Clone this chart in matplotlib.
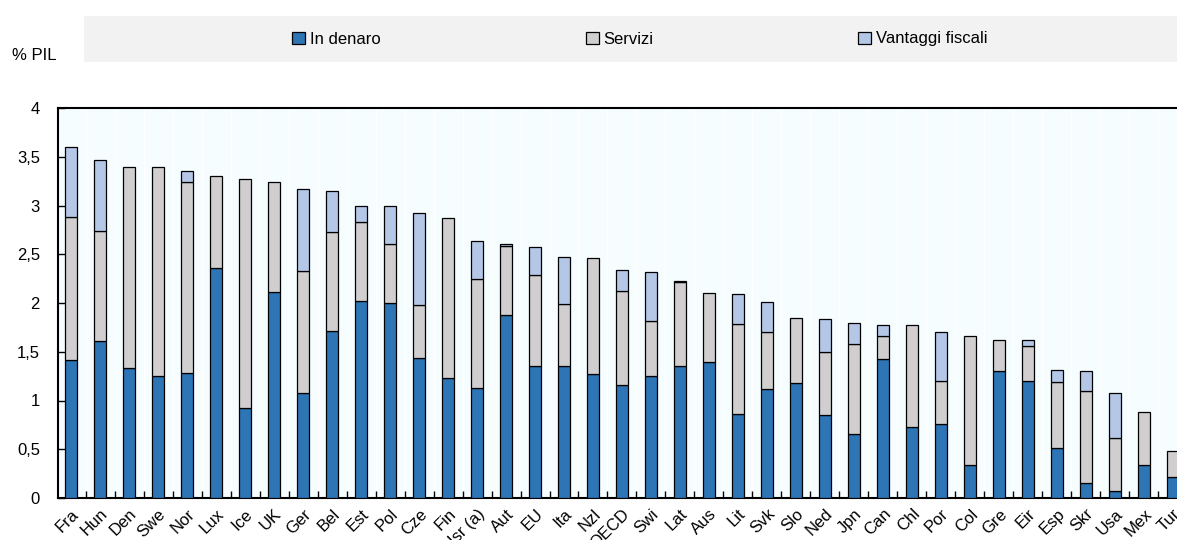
import matplotlib
matplotlib.use("Agg")
import numpy as np
import matplotlib.pyplot as plt
from matplotlib.patches import Rectangle
from matplotlib.ticker import FuncFormatter, FixedLocator

plt.rcParams['font.family'] = ['Liberation Sans', 'DejaVu Sans']
fs = 12

countries = ["Fra", "Hun", "Den", "Swe", "Nor", "Lux", "Ice", "UK", "Ger", "Bel",
             "Est", "Pol", "Cze", "Fin", "Isr (a)", "Aut", "EU", "Ita", "Nzl", "OECD",
             "Swi", "Lat", "Aus", "Lit", "Svk", "Slo", "Ned", "Jpn", "Can", "Chl",
             "Por", "Col", "Gre", "Eir", "Esp", "Skr", "Usa", "Mex", "Tur"]
in_denaro = [1.42, 1.61, 1.33, 1.25, 1.28, 2.36, 0.92, 2.11, 1.08, 1.71,
             2.02, 2.00, 1.44, 1.23, 1.13, 1.88, 1.35, 1.35, 1.27, 1.16,
             1.25, 1.35, 1.40, 0.86, 1.12, 1.18, 0.85, 0.66, 1.43, 0.73,
             0.76, 0.34, 1.30, 1.20, 0.51, 0.15, 0.07, 0.34, 0.22]
servizi = [1.46, 1.13, 2.07, 2.14, 1.96, 0.94, 2.35, 1.13, 1.25, 1.02,
           0.81, 0.61, 0.54, 1.64, 1.12, 0.70, 0.94, 0.64, 1.19, 0.96,
           0.57, 0.87, 0.70, 0.92, 0.58, 0.67, 0.65, 0.92, 0.23, 1.04,
           0.44, 1.32, 0.32, 0.36, 0.68, 0.95, 0.55, 0.54, 0.26]
vantaggi = [0.72, 0.73, 0.00, 0.00, 0.11, 0.00, 0.00, 0.00, 0.84, 0.42,
            0.17, 0.38, 0.94, 0.00, 0.39, 0.03, 0.28, 0.48, 0.00, 0.22,
            0.50, 0.01, 0.00, 0.31, 0.31, 0.00, 0.34, 0.21, 0.11, 0.00,
            0.50, 0.00, 0.00, 0.06, 0.12, 0.20, 0.46, 0.00, 0.00]
yticks = [0, 0.5, 1, 1.5, 2, 2.5, 3, 3.5, 4]

c_den = '#2E75B6'
c_serv = '#D0CECE'
c_vant = '#B4C7E7'

W, H = 1177, 540
fig = plt.figure(figsize=(W / 100, H / 100), dpi=100)
ax = fig.add_axes([58 / W, 1 - 498 / H, 1 - 58 / W, (498 - 108) / H])
ax.set_facecolor('#F6FDFF')

x = np.arange(len(countries))
den = np.array(in_denaro)
serv = np.array(servizi)
vant = np.array(vantaggi)
bw = 0.43
kw = dict(width=bw, edgecolor='black', linewidth=0.9, zorder=3)
b1 = ax.bar(x, den, color=c_den, label='In denaro', **kw)
b2 = ax.bar(x, serv, bottom=den, color=c_serv, label='Servizi', **kw)
# only draw the tax segment where there is one
has_v = vant > 0
b3 = ax.bar(x[has_v], vant[has_v], bottom=(den + serv)[has_v],
            color=c_vant, label='Vantaggi fiscali', **kw)

ax.set_xlim(-0.45, len(countries) - 1 + 0.14)
ax.set_ylim(0, 4)
ax.set_yticks(yticks)
ax.yaxis.set_major_formatter(FuncFormatter(lambda v, p: f"{v:g}".replace('.', ',')))
ax.tick_params(axis='y', direction='in', length=5, width=1, labelsize=fs, pad=13)

ax.set_xticks(x)
ax.set_xticklabels(countries, rotation=45, ha='right', rotation_mode='anchor', fontsize=fs)
ax.tick_params(axis='x', which='major', length=0, pad=6)
ax.xaxis.set_minor_locator(FixedLocator(x[:-1] + 0.5))
ax.tick_params(axis='x', which='minor', direction='in', length=5, width=1)
ax.grid(axis='x', which='minor', color='white', linewidth=1, zorder=0)
ax.set_axisbelow(True)

for s in ['left', 'bottom', 'top']:
    ax.spines[s].set_linewidth(1.5)
ax.spines['right'].set_visible(False)

# grey band behind the legend
fig.patches.append(Rectangle((84 / W, 1 - 62 / H), 1 - 84 / W, 46 / H,
                             transform=fig.transFigure, facecolor='#F2F2F2',
                             edgecolor='none', zorder=0))
for h, lab, px in [(b1, 'In denaro', 292), (b2, 'Servizi', 586), (b3, 'Vantaggi fiscali', 858)]:
    fig.legend([h], [lab], loc='center left', bbox_to_anchor=(px / W, 1 - 39 / H),
               frameon=False, fontsize=fs, handlelength=0.75, handleheight=0.75,
               handletextpad=0.3, borderpad=0, borderaxespad=0)

fig.text(12 / W, 1 - 55 / H, '% PIL', fontsize=fs, va='center', ha='left')

fig.savefig('out.png', dpi=100)
